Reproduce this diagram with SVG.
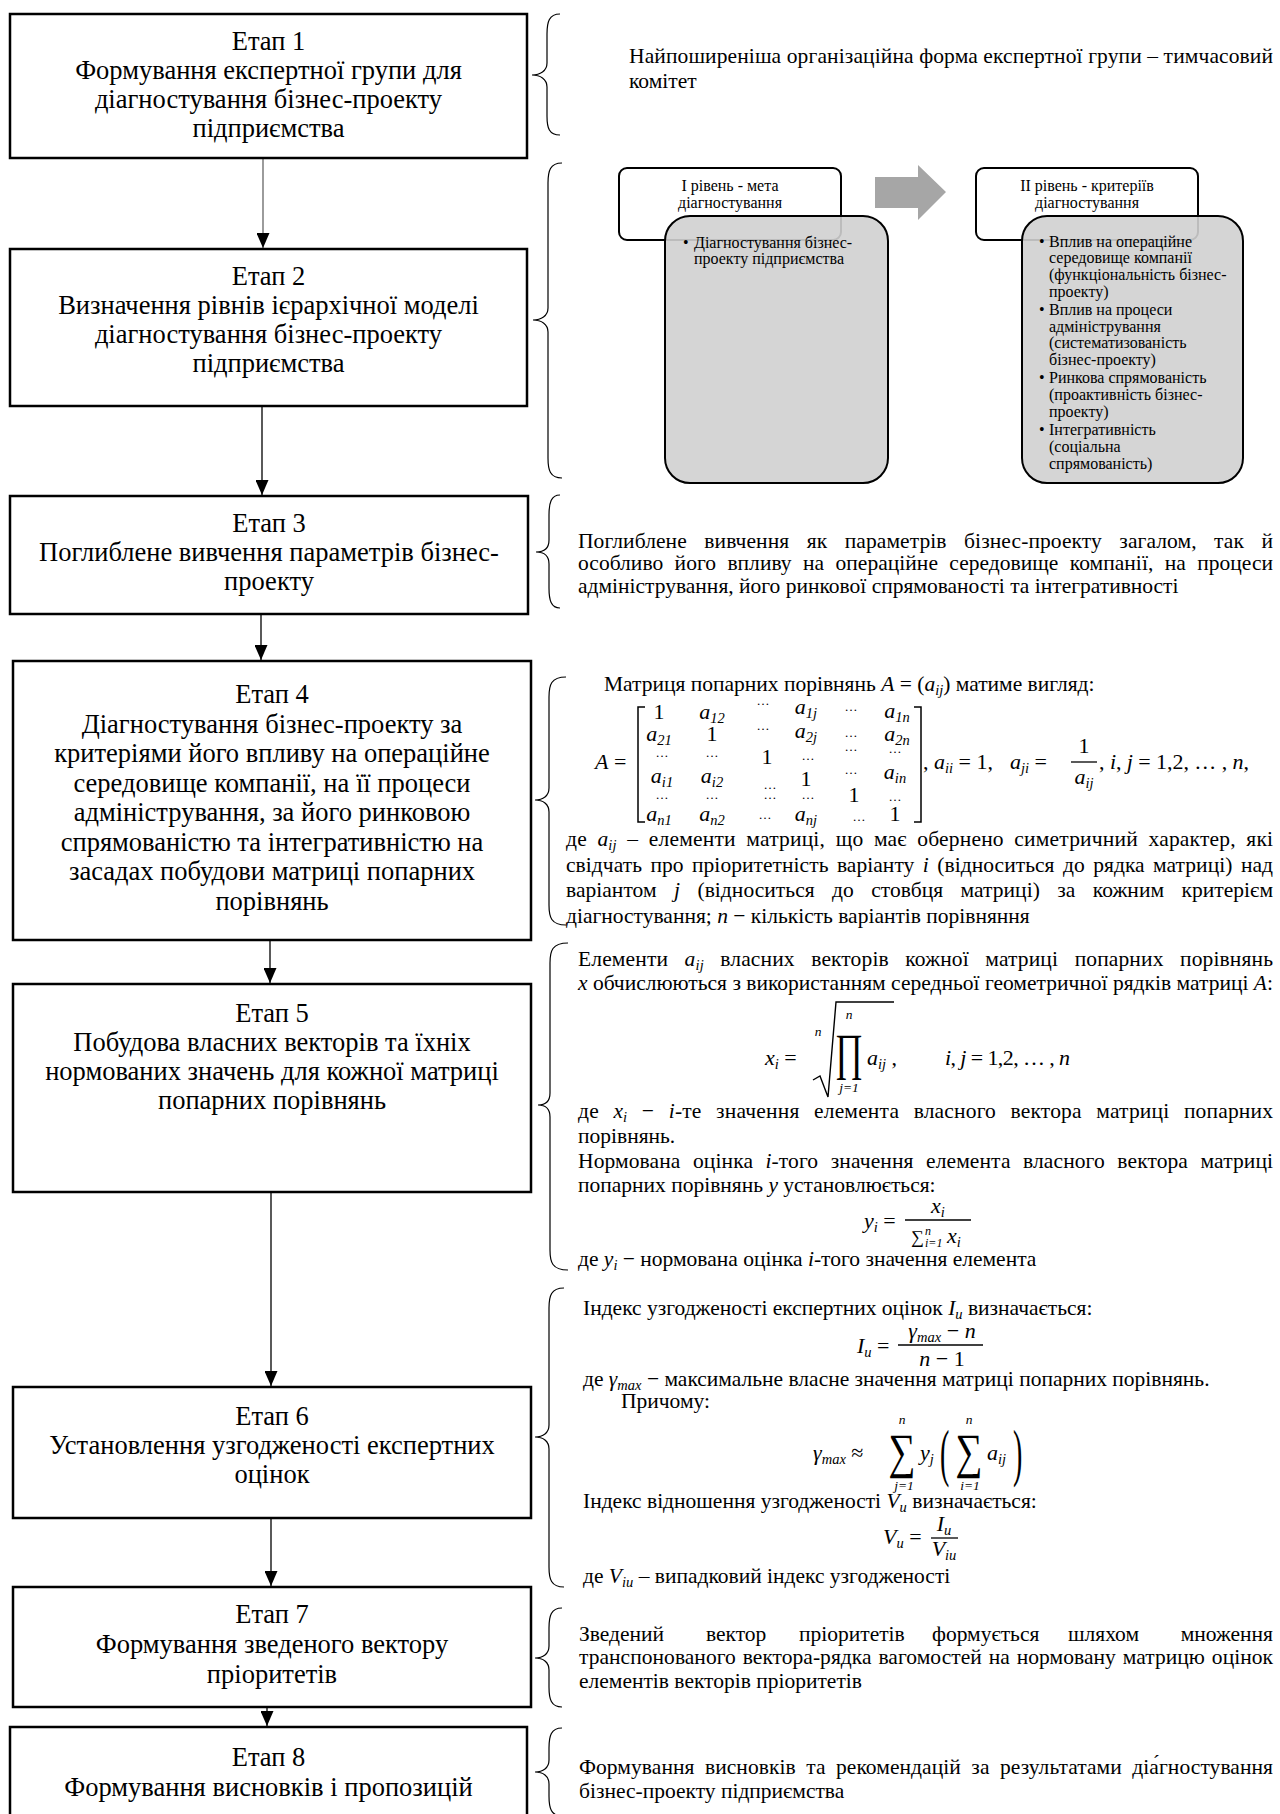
<svg xmlns="http://www.w3.org/2000/svg" width="1280" height="1814" viewBox="0 0 1280 1814">
<defs>
<style>
.box{fill:#fff;stroke:#000;stroke-width:2.5}
.bt{font-family:"Liberation Serif","Times New Roman",serif;font-size:26.5px;text-anchor:middle;fill:#000}
.rt{font-family:"Liberation Serif","Times New Roman",serif;font-size:21.5px;fill:#000}
.mx{font-family:"Liberation Serif","Times New Roman",serif;font-size:22px;fill:#000;text-anchor:middle}
.mi{font-style:italic}
.sb{font-size:14.5px;font-style:italic}
.sm{font-family:"Liberation Serif","Times New Roman",serif;font-size:13.5px;font-style:italic;text-anchor:middle}
.mc{text-anchor:middle}
.dots{font-family:"Liberation Serif",serif;font-size:13px;text-anchor:middle}
.brace{fill:none;stroke:#000;stroke-width:1.2}
.bar{stroke:#000;stroke-width:1.3}
.lt{font-family:"Liberation Serif","Times New Roman",serif;font-size:16px;fill:#000}
.hdr{fill:#fff;stroke:#000;stroke-width:2}
.cnt{fill:#d0d0d0;fill-opacity:0.9;stroke:#000;stroke-width:2}
.conn line{stroke:#000;stroke-width:1.3}
</style>
<marker id="ah" viewBox="0 0 15 13" refX="15" refY="6.5" markerWidth="15" markerHeight="13" markerUnits="userSpaceOnUse" orient="auto">
<path d="M0,0 L15,6.5 L0,13 z" fill="#000"/>
</marker>
</defs>
<rect width="1280" height="1814" fill="#fff"/>

<g id="connectors" class="conn">
<line x1="263" y1="158" x2="263" y2="248" marker-end="url(#ah)" style="stroke:#666"/>
<line x1="262" y1="406" x2="262" y2="495" marker-end="url(#ah)"/>
<line x1="261" y1="614" x2="261" y2="660" marker-end="url(#ah)"/>
<line x1="270" y1="940" x2="270" y2="983" marker-end="url(#ah)"/>
<line x1="271" y1="1192" x2="271" y2="1386" marker-end="url(#ah)"/>
<line x1="271" y1="1518" x2="271" y2="1586" marker-end="url(#ah)"/>
<line x1="267" y1="1707" x2="267" y2="1726" marker-end="url(#ah)"/>
</g>

<g id="stage1">
<rect class="box" x="10" y="14" width="517" height="144"/>
<text class="bt" x="268.5" y="50">Етап 1</text>
<text class="bt" x="268.5" y="79">Формування експертної групи для</text>
<text class="bt" x="268.5" y="108">діагностування бізнес-проекту</text>
<text class="bt" x="268.5" y="137">підприємства</text>
</g>
<g id="stage2">
<rect class="box" x="10" y="249" width="517" height="157"/>
<text class="bt" x="268.5" y="285">Етап 2</text>
<text class="bt" x="268.5" y="314">Визначення рівнів ієрархічної моделі</text>
<text class="bt" x="268.5" y="343">діагностування бізнес-проекту</text>
<text class="bt" x="268.5" y="372">підприємства</text>
</g>
<g id="stage3">
<rect class="box" x="10" y="496" width="518" height="118"/>
<text class="bt" x="269" y="532">Етап 3</text>
<text class="bt" x="269" y="561">Поглиблене вивчення параметрів бізнес-</text>
<text class="bt" x="269" y="590">проекту</text>
</g>
<g id="stage4">
<rect class="box" x="13" y="661" width="518" height="279"/>
<text class="bt" x="272" y="703">Етап 4</text>
<text class="bt" x="272" y="732.5">Діагностування бізнес-проекту за</text>
<text class="bt" x="272" y="762">критеріями його впливу на операційне</text>
<text class="bt" x="272" y="791.5">середовище компанії, на її процеси</text>
<text class="bt" x="272" y="821">адміністрування, за його ринковою</text>
<text class="bt" x="272" y="850.5">спрямованістю та інтегративністю на</text>
<text class="bt" x="272" y="880">засадах побудови матриці попарних</text>
<text class="bt" x="272" y="909.5">порівнянь</text>
</g>
<g id="stage5">
<rect class="box" x="13" y="984" width="518" height="208"/>
<text class="bt" x="272" y="1022">Етап 5</text>
<text class="bt" x="272" y="1051">Побудова власних векторів та їхніх</text>
<text class="bt" x="272" y="1080">нормованих значень для кожної матриці</text>
<text class="bt" x="272" y="1109">попарних порівнянь</text>
</g>
<g id="stage6">
<rect class="box" x="13" y="1387" width="518" height="131"/>
<text class="bt" x="272" y="1425">Етап 6</text>
<text class="bt" x="272" y="1454">Установлення узгодженості експертних</text>
<text class="bt" x="272" y="1483">оцінок</text>
</g>
<g id="stage7">
<rect class="box" x="13" y="1587" width="518" height="120"/>
<text class="bt" x="272" y="1623">Етап 7</text>
<text class="bt" x="272" y="1653">Формування зведеного вектору</text>
<text class="bt" x="272" y="1683">пріоритетів</text>
</g>
<g id="stage8">
<rect class="box" x="10" y="1727" width="517" height="104"/>
<text class="bt" x="268.5" y="1766">Етап 8</text>
<text class="bt" x="268.5" y="1796">Формування висновків і пропозицій</text>
</g>

<g id="note1">
<path class="brace" d="M560 14 C549 14 547 22 547 34 L547 63 C547 71 540 75 532 75 C540 75 547 79 547 87 L547 116 C547 128 549 135 560 135"/>
<text class="rt" x="629" y="63" textLength="644" lengthAdjust="spacing">Найпоширеніша організаційна форма експертної групи – тимчасовий</text>
<text class="rt" x="629" y="88">комітет</text>
</g>

<g id="note2">
<path class="brace" d="M562 163 C550 163 548 171 548 183 L548 308 C548 316 541 320 533 320 C541 320 548 324 548 332 L548 458 C548 470 550 478 562 478"/>
<g id="level1">
<rect class="hdr" x="619" y="168" width="222" height="72" rx="8"/>
<text class="lt mc" x="730" y="191">І рівень - мета</text>
<text class="lt mc" x="730" y="208">діагностування</text>
<rect class="cnt" x="665" y="216" width="223" height="267" rx="25"/>
<text class="lt" x="683" y="248">•</text>
<text class="lt" x="694" y="248">Діагностування бізнес-</text>
<text class="lt" x="694" y="264">проекту підприємства</text>
</g>
<polygon id="level-arrow" points="875,177 918,177 918,165 946,192 918,220 918,208 875,208" fill="#a6a6a6"/>
<g id="level2">
<rect class="hdr" x="976" y="168" width="222" height="72" rx="8"/>
<text class="lt mc" x="1087" y="191">ІІ рівень - критеріїв</text>
<text class="lt mc" x="1087" y="208">діагностування</text>
<rect class="cnt" x="1022" y="216" width="221" height="267" rx="25"/>
<text class="lt" x="1039" y="247">•</text>
<text class="lt" x="1049" y="247">Вплив на операційне</text>
<text class="lt" x="1049" y="263">середовище компанії</text>
<text class="lt" x="1049" y="280">(функціональність бізнес-</text>
<text class="lt" x="1049" y="297">проекту)</text>
<text class="lt" x="1039" y="315">•</text>
<text class="lt" x="1049" y="315">Вплив на процеси</text>
<text class="lt" x="1049" y="332">адміністрування</text>
<text class="lt" x="1049" y="348">(систематизованість</text>
<text class="lt" x="1049" y="365">бізнес-проекту)</text>
<text class="lt" x="1039" y="383">•</text>
<text class="lt" x="1049" y="383">Ринкова спрямованість</text>
<text class="lt" x="1049" y="400">(проактивність бізнес-</text>
<text class="lt" x="1049" y="417">проекту)</text>
<text class="lt" x="1039" y="435">•</text>
<text class="lt" x="1049" y="435">Інтегративність</text>
<text class="lt" x="1049" y="452">(соціальна</text>
<text class="lt" x="1049" y="469">спрямованість)</text>
</g>
</g>

<g id="note3">
<path class="brace" d="M560 495 C551 495 549 503 549 515 L549 540 C549 548 544 552 536 552 C544 552 549 556 549 564 L549 588 C549 600 551 608 560 608"/>
<text class="rt" x="578" y="548" word-spacing="12" textLength="695" lengthAdjust="spacing">Поглиблене вивчення як параметрів бізнес-проекту загалом, так й</text>
<text class="rt" x="578" y="570" word-spacing="6" textLength="695" lengthAdjust="spacing">особливо його впливу на операційне середовище компанії, на процеси</text>
<text class="rt" x="578" y="593">адміністрування, його ринкової спрямованості та інтегративності</text>
</g>

<g id="note4">
<path class="brace" d="M566 677 C551 677 549 685 549 697 L549 788 C549 796 543 800 535 800 C543 800 549 804 549 812 L549 905 C549 917 551 925 566 925"/>
<text class="rt" x="604" y="691">Матриця попарних порівнянь <tspan class="mi">A</tspan> = (<tspan class="mi">a</tspan><tspan class="sb" dy="4">ij</tspan><tspan dy="-4">) матиме вигляд:</tspan></text>
<text class="mx" x="595" y="769" style="text-anchor:start"><tspan class="mi">A</tspan> =</text>
<path d="M645 707 L638 707 L638 822 L645 822 M914 707 L921 707 L921 822 L914 822" fill="none" stroke="#000" stroke-width="1.5"/>
<g id="matrix">
<text class="mx" x="659" y="719">1</text>
<text class="mx" x="712" y="719"><tspan class="mi">a</tspan><tspan class="sb" dy="4">12</tspan></text>
<text class="dots" x="763" y="705">…</text>
<text class="mx" x="806" y="714"><tspan class="mi">a</tspan><tspan class="sb" dy="4">1j</tspan></text>
<text class="dots" x="851" y="711">…</text>
<text class="mx" x="897" y="718"><tspan class="mi">a</tspan><tspan class="sb" dy="4">1n</tspan></text>
<text class="mx" x="659" y="741"><tspan class="mi">a</tspan><tspan class="sb" dy="4">21</tspan></text>
<text class="mx" x="712" y="741">1</text>
<text class="dots" x="763" y="730">…</text>
<text class="mx" x="806" y="738"><tspan class="mi">a</tspan><tspan class="sb" dy="4">2j</tspan></text>
<text class="dots" x="851" y="737">…</text>
<text class="mx" x="897" y="741"><tspan class="mi">a</tspan><tspan class="sb" dy="4">2n</tspan></text>
<text class="dots" x="662" y="757">…</text>
<text class="dots" x="712" y="757">…</text>
<text class="mx" x="767" y="764">1</text>
<text class="dots" x="808" y="760">…</text>
<text class="dots" x="851" y="751">…</text>
<text class="dots" x="895" y="753">…</text>
<text class="mx" x="662" y="783"><tspan class="mi">a</tspan><tspan class="sb" dy="4">i1</tspan></text>
<text class="mx" x="712" y="783"><tspan class="mi">a</tspan><tspan class="sb" dy="4">i2</tspan></text>
<text class="dots" x="770" y="789">…</text>
<text class="mx" x="806" y="786">1</text>
<text class="dots" x="851" y="774">…</text>
<text class="mx" x="895" y="779"><tspan class="mi">a</tspan><tspan class="sb" dy="4">in</tspan></text>
<text class="dots" x="662" y="799">…</text>
<text class="dots" x="712" y="799">…</text>
<text class="dots" x="770" y="799">…</text>
<text class="dots" x="808" y="799">…</text>
<text class="mx" x="854" y="802">1</text>
<text class="dots" x="895" y="801">…</text>
<text class="mx" x="659" y="821"><tspan class="mi">a</tspan><tspan class="sb" dy="4">n1</tspan></text>
<text class="mx" x="712" y="821"><tspan class="mi">a</tspan><tspan class="sb" dy="4">n2</tspan></text>
<text class="dots" x="765" y="819">…</text>
<text class="mx" x="806" y="821"><tspan class="mi">a</tspan><tspan class="sb" dy="4">nj</tspan></text>
<text class="dots" x="859" y="821">…</text>
<text class="mx" x="895" y="821">1</text>
</g>
<text class="rt" x="923" y="769" style="font-size:22px">,</text>
<text class="rt" x="934" y="769" style="font-size:22px"><tspan class="mi">a</tspan><tspan class="sb" dy="4">ii</tspan><tspan dy="-4"> = 1,</tspan></text>
<text class="rt" x="1010" y="769" style="font-size:22px"><tspan class="mi">a</tspan><tspan class="sb" dy="4">ji</tspan><tspan dy="-4"> =</tspan></text>
<text class="rt mc" x="1084" y="753" style="font-size:22px">1</text>
<line class="bar" x1="1071" y1="762" x2="1097" y2="762"/>
<text class="rt mc" x="1084" y="784" style="font-size:22px"><tspan class="mi">a</tspan><tspan class="sb" dy="4">ij</tspan></text>
<text class="rt" x="1099" y="769" style="font-size:22px" textLength="150" lengthAdjust="spacing">,  <tspan class="mi">i</tspan>, <tspan class="mi">j</tspan> = 1,2, … , <tspan class="mi">n</tspan>,</text>
<text class="rt" x="566" y="846" word-spacing="5" textLength="707" lengthAdjust="spacing">де <tspan class="mi">a</tspan><tspan class="sb" dy="4">ij</tspan><tspan dy="-4"> – елементи матриці, що має обернено симетричний характер, які</tspan></text>
<text class="rt" x="566" y="871.5" word-spacing="3" textLength="707" lengthAdjust="spacing">свідчать про пріоритетність варіанту <tspan class="mi">i</tspan> (відноситься до рядка матриці) над</text>
<text class="rt" x="566" y="897" word-spacing="12" textLength="707" lengthAdjust="spacing">варіантом <tspan class="mi">j</tspan> (відноситься до стовбця матриці) за кожним критерієм</text>
<text class="rt" x="566" y="922.5">діагностування; <tspan class="mi">n</tspan> − кількість варіантів порівняння</text>
</g>

<g id="note5">
<path class="brace" d="M568 943 C552 943 550 951 550 963 L550 1093 C550 1101 546 1105 538 1105 C546 1105 550 1109 550 1117 L550 1250 C550 1262 552 1270 568 1270"/>
<text class="rt" x="578" y="966" word-spacing="11" textLength="695" lengthAdjust="spacing">Елементи <tspan class="mi">a</tspan><tspan class="sb" dy="4">ij</tspan><tspan dy="-4"> власних векторів кожної матриці попарних порівнянь</tspan></text>
<text class="rt" x="578" y="990" textLength="695" lengthAdjust="spacing"><tspan class="mi">x</tspan> обчислюються з використанням середньої геометричної рядків матриці <tspan class="mi">A</tspan>:</text>
<text class="rt" x="765" y="1065" style="font-size:22px"><tspan class="mi">x</tspan><tspan class="sb" dy="4">i</tspan><tspan dy="-4"> =</tspan></text>
<path d="M813 1080 L820 1076 L828 1097 L836 1002 L894 1002" fill="none" stroke="#000" stroke-width="1.4"/>
<text class="sm" x="818" y="1036">n</text>
<text class="rt mc" transform="translate(849 1069) scale(1 1.5)" style="font-size:34px">∏</text>
<text class="sm" x="849" y="1019">n</text>
<text class="sm" x="849" y="1092">j=1</text>
<text class="rt" x="867" y="1065" style="font-size:22px"><tspan class="mi">a</tspan><tspan class="sb" dy="4">ij</tspan><tspan dy="-4"> ,</tspan></text>
<text class="rt" x="945" y="1065" style="font-size:22px" textLength="125" lengthAdjust="spacing"><tspan class="mi">i</tspan>, <tspan class="mi">j</tspan> = 1,2, … , <tspan class="mi">n</tspan></text>
<text class="rt" x="578" y="1118" word-spacing="9" textLength="695" lengthAdjust="spacing">де <tspan class="mi">x</tspan><tspan class="sb" dy="4">i</tspan><tspan dy="-4"> − </tspan><tspan class="mi">i</tspan>-те значення елемента власного вектора матриці попарних</text>
<text class="rt" x="578" y="1143">порівнянь.</text>
<text class="rt" x="578" y="1168" word-spacing="7" textLength="695" lengthAdjust="spacing">Нормована оцінка <tspan class="mi">i</tspan>-того значення елемента власного вектора матриці</text>
<text class="rt" x="578" y="1192">попарних порівнянь <tspan class="mi">y</tspan> установлюється:</text>
<text class="rt" x="864" y="1228" style="font-size:22px"><tspan class="mi">y</tspan><tspan class="sb" dy="4">i</tspan><tspan dy="-4"> =</tspan></text>
<text class="rt mc" x="938" y="1213" style="font-size:22px"><tspan class="mi">x</tspan><tspan class="sb" dy="4">i</tspan></text>
<line class="bar" x1="905" y1="1220" x2="971" y2="1220"/>
<text class="rt" x="911" y="1243" style="font-size:18px">∑</text>
<text class="rt" x="925" y="1247" style="font-size:12px;font-style:italic">i=1</text>
<text class="rt" x="925" y="1235" style="font-size:12px;font-style:italic">n</text>
<text class="rt" x="947" y="1243" style="font-size:22px"><tspan class="mi">x</tspan><tspan class="sb" dy="4">i</tspan></text>
<text class="rt" x="578" y="1266">де  <tspan class="mi">y</tspan><tspan class="sb" dy="4">i</tspan><tspan dy="-4"> − нормована оцінка </tspan><tspan class="mi">i</tspan>-того значення елемента</text>
</g>

<g id="note6">
<path class="brace" d="M564 1288 C551 1288 549 1296 549 1308 L549 1425 C549 1433 543 1437 535 1437 C543 1437 549 1441 549 1449 L549 1567 C549 1579 551 1587 564 1587"/>
<text class="rt" x="583" y="1315">Індекс узгодженості експертних оцінок <tspan class="mi">I</tspan><tspan class="sb" dy="4">u</tspan><tspan dy="-4"> визначається:</tspan></text>
<text class="rt" x="857" y="1353" style="font-size:22px"><tspan class="mi">I</tspan><tspan class="sb" dy="4">u</tspan><tspan dy="-4"> =</tspan></text>
<text class="rt mc" x="942" y="1338" style="font-size:22px"><tspan class="mi">γ</tspan><tspan class="sb" dy="4">max</tspan><tspan dy="-4"> − </tspan><tspan class="mi">n</tspan></text>
<line class="bar" x1="898" y1="1345" x2="983" y2="1345"/>
<text class="rt mc" x="942" y="1366" style="font-size:22px"><tspan class="mi">n</tspan> − 1</text>
<text class="rt" x="583" y="1386">де <tspan class="mi">γ</tspan><tspan class="sb" dy="4">max</tspan><tspan dy="-4"> − максимальне власне значення матриці попарних порівнянь.</tspan></text>
<text class="rt" x="621" y="1408">Причому:</text>
<text class="rt" x="813" y="1460" style="font-size:22px"><tspan class="mi">γ</tspan><tspan class="sb" dy="4">max</tspan><tspan dy="-4"> ≈</tspan></text>
<text class="rt mc" transform="translate(902 1468) scale(1 1.3)" style="font-size:38px">∑</text>
<text class="sm" x="902" y="1424">n</text>
<text class="sm" x="904" y="1490">j=1</text>
<text class="rt" x="920" y="1460" style="font-size:22px"><tspan class="mi">y</tspan><tspan class="sb" dy="4">j</tspan></text>
<text class="rt" transform="translate(940 1474) scale(1 2.3)" style="font-size:28px">(</text>
<text class="rt mc" transform="translate(969 1468) scale(1 1.3)" style="font-size:38px">∑</text>
<text class="sm" x="969" y="1424">n</text>
<text class="sm" x="970" y="1490">i=1</text>
<text class="rt" x="987" y="1460" style="font-size:22px"><tspan class="mi">a</tspan><tspan class="sb" dy="4">ij</tspan></text>
<text class="rt" transform="translate(1013 1474) scale(1 2.3)" style="font-size:28px">)</text>
<text class="rt" x="583" y="1508">Індекс відношення узгодженості <tspan class="mi">V</tspan><tspan class="sb" dy="4">u</tspan><tspan dy="-4"> визначається:</tspan></text>
<text class="rt" x="883" y="1544" style="font-size:22px"><tspan class="mi">V</tspan><tspan class="sb" dy="4">u</tspan><tspan dy="-4"> =</tspan></text>
<text class="rt mc" x="944" y="1531" style="font-size:22px"><tspan class="mi">I</tspan><tspan class="sb" dy="4">u</tspan></text>
<line class="bar" x1="931" y1="1538" x2="958" y2="1538"/>
<text class="rt mc" x="944" y="1556" style="font-size:22px"><tspan class="mi">V</tspan><tspan class="sb" dy="4">iu</tspan></text>
<text class="rt" x="583" y="1583">де <tspan class="mi">V</tspan><tspan class="sb" dy="4">iu</tspan><tspan dy="-4"> – випадковий індекс узгодженості</tspan></text>
</g>

<g id="note7">
<path class="brace" d="M562 1608 C551 1608 549 1616 549 1628 L549 1646 C549 1654 543 1658 535 1658 C543 1658 549 1662 549 1670 L549 1687 C549 1699 551 1707 562 1707"/>
<text class="rt" x="579" y="1641">Зведений</text>
<text class="rt" x="706" y="1641">вектор</text>
<text class="rt" x="799" y="1641">пріоритетів</text>
<text class="rt" x="932" y="1641">формується</text>
<text class="rt" x="1068" y="1641">шляхом</text>
<text class="rt" x="1273" y="1641" text-anchor="end">множення</text>
<text class="rt" x="579" y="1664" word-spacing="1.5" textLength="694" lengthAdjust="spacing">транспонованого вектора-рядка вагомостей на нормовану матрицю оцінок</text>
<text class="rt" x="579" y="1688">елементів векторів пріоритетів</text>
</g>

<g id="note8">
<path class="brace" d="M562 1728 C551 1728 549 1736 549 1748 L549 1760 C549 1768 543 1772 535 1772 C543 1772 549 1776 549 1784 L549 1796 C549 1808 551 1816 562 1816"/>
<text class="rt" x="579" y="1774" word-spacing="5" textLength="694" lengthAdjust="spacing">Формування висновків та рекомендацій за результатами діа́гностування</text>
<text class="rt" x="579" y="1798">бізнес-проекту підприємства</text>
</g>
</svg>
